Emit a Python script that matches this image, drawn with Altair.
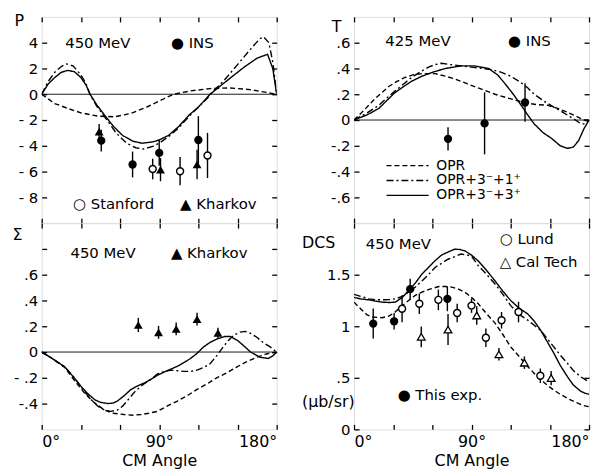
import altair as alt
import pandas as pd

FONT = "DejaVu Sans"
MODELS = ["OPR", "OPR+3⁻+1⁺", "OPR+3⁻+3⁺"]
DASHES = [[5, 3], [7, 3, 2, 3], [1, 0]]
X_TICKS = [0, 30, 60, 90, 120, 150, 180]

# ---------------- P, 450 MeV ----------------
p_opr_ang = [0, 10, 20, 30, 43, 56, 68, 81, 94, 101, 114, 129, 144, 159.5, 170, 180]
p_opr_val = [0, -0.72, -1.1, -1.44, -1.7, -1.75, -1.5, -0.97, -0.33, 0, 0.26, 0.44, 0.49, 0.36, 0.18, 0]
p_31_ang = [0, 5, 10, 15, 19, 24, 30, 34, 37, 42, 50, 57, 65, 72, 78, 85, 90, 97, 105, 113, 120, 127, 130, 140, 150, 160, 167, 170, 174, 177, 180]
p_31_val = [0, 1.0, 1.7, 2.15, 2.35, 2.2, 1.5, 0.8, 0.0, -0.9, -2.0, -3.0, -3.8, -4.15, -4.25, -4.05, -3.8, -3.3, -2.6, -1.7, -1.0, -0.3, 0.1, 1.1, 2.3, 3.5, 4.3, 4.45, 4.0, 2.5, 0]
p_33_ang = [0, 5, 10, 15, 20, 25, 30, 34, 37, 42, 48, 55, 62, 70, 77, 85, 90, 97, 105, 113, 120, 129, 135, 145, 155, 165, 173, 177, 180]
p_33_val = [0, 0.8, 1.3, 1.7, 1.85, 1.75, 1.3, 0.7, 0.0, -0.8, -1.6, -2.5, -3.2, -3.65, -3.8, -3.7, -3.55, -3.2, -2.5, -1.6, -1.0, 0.0, 0.5, 1.3, 2.1, 2.8, 3.1, 2.0, 0]
p_ins_ang = [45.6, 69.6, 90, 120]
p_ins_val = [-3.6, -5.45, -4.55, -3.55]
p_ins_err = [0.85, 1.0, 1.0, 1.85]
p_stan_ang = [85, 106, 127]
p_stan_val = [-5.8, -5.97, -4.75]
p_stan_err = [0.8, 1.1, 1.75]
p_khar_ang = [44, 91, 119]
p_khar_val = [-2.9, -5.85, -5.45]
p_khar_err = [0.6, 0.9, 1.15]
p_txt = ["450 MeV", "● INS", "○ Stanford", "▲ Kharkov"]
p_txt_ang = [18, 99, 24, 106]
p_txt_val = [4.0, 4.0, -8.55, -8.55]
p_ticks = [-8, -6, -4, -2, 0, 2, 4]
p_labels = ["- 8", "- 6", "- 4", "- 2", "0", "2", "4"]

# ---------------- T, 425 MeV ----------------
t_opr_ang = [0, 8, 16.5, 26.6, 33, 39, 45, 52, 62, 70, 77, 87, 97.6, 108, 118, 125, 133, 140, 148, 156, 163.5, 170, 176, 180]
t_opr_val = [0, 0.08, 0.17, 0.26, 0.3, 0.33, 0.35, 0.36, 0.36, 0.34, 0.32, 0.28, 0.24, 0.2, 0.17, 0.15, 0.13, 0.12, 0.115, 0.09, 0.06, 0.03, 0.0, 0]
t_31_ang = [0, 10, 19, 25, 32, 38, 44, 51, 57, 62, 67, 74, 82, 90, 98, 106, 113, 120, 128, 133, 138, 145, 153, 160, 168, 174, 177, 180]
t_31_val = [0, 0.055, 0.115, 0.17, 0.23, 0.28, 0.33, 0.375, 0.41, 0.43, 0.44, 0.43, 0.42, 0.41, 0.40, 0.39, 0.37, 0.34, 0.29, 0.25, 0.20, 0.15, 0.10, 0.06, 0.01, -0.03, -0.03, 0]
t_33_ang = [0, 10, 19, 25, 31, 38, 44, 52, 60, 70, 82, 92, 103, 110, 115, 122, 128, 133, 138, 145, 151, 158, 163.5, 168, 172, 176, 180]
t_33_val = [0, 0.04, 0.09, 0.15, 0.21, 0.26, 0.3, 0.34, 0.37, 0.40, 0.42, 0.42, 0.40, 0.35, 0.29, 0.2, 0.115, 0.04, -0.03, -0.1, -0.14, -0.2, -0.22, -0.21, -0.16, -0.07, 0]
t_ins_ang = [72, 100, 131]
t_ins_val = [-0.146, -0.026, 0.136]
t_ins_err = [0.09, 0.24, 0.15]
t_txt = ["425 MeV", "● INS"]
t_txt_ang = [24, 118]
t_txt_val = [0.615, 0.615]
t_ticks = [-0.6, -0.4, -0.2, 0, 0.2, 0.4, 0.6]
t_labels = ["-.6", "-.4", "-.2", "0", ".2", ".4", ".6"]

# ---------------- Sigma, 450 MeV ----------------
s_opr_ang = [0, 8, 17.7, 25, 33, 40, 48, 55, 63, 70, 76, 82, 88.7, 96, 104, 112, 119, 127, 134, 142, 149.6, 157, 165, 172, 180]
s_opr_val = [0, -0.05, -0.12, -0.22, -0.32, -0.39, -0.45, -0.475, -0.485, -0.49, -0.485, -0.475, -0.46, -0.42, -0.38, -0.335, -0.29, -0.245, -0.2, -0.16, -0.115, -0.075, -0.04, -0.015, 0]
s_31_ang = [0, 8, 17.7, 25, 33, 38, 43, 48, 53, 58, 62, 67, 72, 78, 84, 88.7, 94, 99, 104, 109, 114, 119, 124, 129, 134, 139, 143, 147, 152, 156, 160, 164.8, 170, 175, 180]
s_31_val = [0, -0.05, -0.115, -0.2, -0.31, -0.37, -0.42, -0.45, -0.46, -0.45, -0.42, -0.36, -0.3, -0.25, -0.21, -0.17, -0.15, -0.14, -0.145, -0.15, -0.15, -0.14, -0.12, -0.09, -0.03, 0.04, 0.09, 0.13, 0.155, 0.16, 0.145, 0.115, 0.07, 0.04, 0]
s_33_ang = [0, 8, 17.7, 24, 30.4, 35, 40.6, 45, 50.7, 55, 58, 63, 68.4, 74, 78.6, 84, 88.7, 95, 104, 110, 114, 119, 124, 129, 134, 140, 144.5, 150, 154.6, 160, 167, 173.6, 177, 180]
s_33_val = [0, -0.05, -0.115, -0.19, -0.27, -0.32, -0.37, -0.39, -0.4, -0.395, -0.38, -0.34, -0.29, -0.26, -0.24, -0.21, -0.18, -0.15, -0.11, -0.075, -0.05, -0.01, 0.04, 0.075, 0.1, 0.12, 0.12, 0.09, 0.05, 0.0, -0.04, -0.05, -0.03, 0]
s_khar_ang = [74, 89.5, 103, 119, 135]
s_khar_val = [0.21, 0.153, 0.18, 0.255, 0.148]
s_khar_err = [0.055, 0.05, 0.05, 0.05, 0.04]
s_txt = ["450 MeV", "▲ Kharkov"]
s_txt_ang = [22, 99]
s_txt_val = [0.77, 0.77]
s_ticks = [-0.4, -0.2, 0, 0.2, 0.4, 0.6, 0.8]
s_labels = ["-.4", "- .2", "0", ".2", ".4", ".6", ""]

# ---------------- DCS, 450 MeV ----------------
d_opr_ang = [0, 5, 10, 14, 21.5, 27, 31.7, 37, 41.8, 47, 52, 58, 65, 70, 75, 80, 85, 90, 95, 101, 108, 114, 120, 127, 133, 139, 146, 152, 158, 165, 171, 176, 180]
d_opr_val = [1.234, 1.17, 1.11, 1.09, 1.083, 1.1, 1.14, 1.2, 1.25, 1.3, 1.33, 1.36, 1.385, 1.385, 1.38, 1.36, 1.33, 1.28, 1.22, 1.13, 1.03, 0.92, 0.8, 0.7, 0.61, 0.53, 0.45, 0.39, 0.34, 0.29, 0.256, 0.23, 0.22]
d_31_ang = [0, 5, 11.4, 16, 21.5, 27, 31.7, 37, 41.8, 47, 52, 57, 62, 67, 72, 78, 82, 87, 90, 95, 101, 108, 114, 120, 127, 133, 138, 143, 148, 153, 158, 163.5, 168, 173.6, 180]
d_31_val = [1.31, 1.29, 1.266, 1.258, 1.256, 1.26, 1.266, 1.29, 1.33, 1.38, 1.44, 1.5, 1.57, 1.61, 1.65, 1.68, 1.7, 1.69, 1.68, 1.59, 1.51, 1.41, 1.31, 1.2, 1.11, 1.06, 1.01, 0.96, 0.88, 0.8, 0.72, 0.64, 0.57, 0.51, 0.46]
d_33_ang = [0, 5, 11.4, 16, 21.5, 27, 31.7, 37, 41.8, 47, 52, 57, 62, 67, 72, 77, 81, 85, 90, 95, 101, 108, 114, 120, 126, 133, 138, 143, 148, 153, 158, 163.5, 168, 173.6, 177, 180]
d_33_val = [1.28, 1.265, 1.256, 1.245, 1.234, 1.23, 1.234, 1.28, 1.346, 1.42, 1.506, 1.57, 1.635, 1.69, 1.72, 1.747, 1.745, 1.73, 1.69, 1.635, 1.55, 1.44, 1.34, 1.25, 1.18, 1.12, 1.05, 0.96, 0.85, 0.74, 0.62, 0.51, 0.43, 0.37, 0.35, 0.34]
d_this_ang = [14.7, 30.7, 43, 71.5]
d_this_val = [1.026, 1.048, 1.36, 1.266]
d_this_err = [0.145, 0.08, 0.1, 0.12]
d_lund_ang = [36.8, 50, 64.6, 79, 90, 101, 113, 126, 142.7]
d_lund_val = [1.17, 1.218, 1.256, 1.128, 1.2, 0.888, 1.058, 1.138, 0.52]
d_lund_err = [0.13, 0.1, 0.1, 0.09, 0.07, 0.09, 0.08, 0.1, 0.07]
d_cal_ang = [51.5, 72, 94, 111, 130.5, 151]
d_cal_val = [0.897, 0.968, 1.105, 0.728, 0.647, 0.497]
d_cal_err = [0.1, 0.15, 0.09, 0.06, 0.06, 0.07]
d_txt = ["450 MeV", "○ Lund", "△ Cal Tech", "● This exp."]
d_txt_ang = [9, 111.6, 111.6, 33.4]
d_txt_val = [1.8, 1.85, 1.625, 0.33]
d_ticks = [0.5, 1.0, 1.5, 0]
d_labels = [".5", "1", "1.5", "0"]


def curve_df(triples):
    rows = []
    for m, a, v in triples:
        rows += [{"angle": x, "value": y, "model": m} for x, y in zip(a, v)]
    return pd.DataFrame(rows)


def pts_df(ang, val, err):
    return pd.DataFrame({"angle": ang, "value": val,
                         "lo": [v - e for v, e in zip(val, err)],
                         "hi": [v + e for v, e in zip(val, err)]})


def label_expr(vals, labels):
    s = ""
    for v, l in zip(vals, labels):
        s += f"abs(datum.value - ({v})) < 1e-6 ? '{l}' : "
    return s + "''"


STYLES = {
    "fcirc": dict(shape="circle", filled=True, color="black", size=70, opacity=1),
    "ocirc": dict(shape="circle", filled=True, fill="white", stroke="black", strokeWidth=1.4, size=50, opacity=1),
    "ftri": dict(shape="triangle-up", filled=True, color="black", size=80, opacity=1),
    "otri": dict(shape="triangle-up", filled=True, fill="white", stroke="black", strokeWidth=1.3, size=60, opacity=1),
}

LEGEND = alt.Legend(orient="none", legendX=361, legendY=142, title=None, symbolType="M-3,0H3",
                    symbolSize=200, symbolStrokeWidth=1.3, symbolStrokeColor="black",
                    symbolFillColor="transparent",
                    labelFont=FONT, labelFontSize=14, labelColor="black", rowPadding=0,
                    labelOffset=21)


def panel(curves, sources, texts, ydom, yticks, ylabels, ytitle, tx, ty, bottom, zero=True, lh=None):
    xs = alt.Scale(domain=[0, 180], nice=False, zero=False)
    ys = alt.Scale(domain=ydom, nice=False, zero=False)
    common = dict(tickSize=5, offset=-5, domain=False, grid=False, tickColor="black", tickWidth=1.3)
    if bottom:
        xb = alt.Axis(values=X_TICKS, labelExpr="datum.value % 90 == 0 ? datum.value + '°' : ''",
                      labelFlush=10, labelOverlap=False, labelFont=FONT, labelFontSize=16,
                      labelColor="black", labelPadding=4, title="CM  Angle", titleFont=FONT,
                      titleFontSize=16, titleFontWeight="normal", titleColor="black", titlePadding=3, **common)
    else:
        xb = alt.Axis(values=X_TICKS, labels=False, title=None, **common)
    ykw = dict(values=yticks, labelExpr=label_expr(yticks, ylabels), labelFlush=False, labelOverlap=False,
               labelFont=FONT, labelFontSize=15, labelColor="black", labelPadding=4,
               title=ytitle, titleAngle=0, titleX=tx, titleY=ty, titleAlign="left",
               titleBaseline="alphabetic", titleFont=FONT, titleFontSize=16, titleFontWeight="normal",
               titleColor="black", **common)
    if lh is not None:
        ykw["titleLineHeight"] = lh
    yl = alt.Axis(**ykw)
    xt = alt.Axis(orient="top", values=X_TICKS, labels=False, title=None, **common)
    yr = alt.Axis(orient="right", values=yticks, labels=False, title=None, **common)

    layers = []
    layers.append(alt.Chart(curves).mark_line(color="black", strokeWidth=1.4, clip=True).encode(
        x=alt.X("angle:Q", scale=xs, axis=xb),
        y=alt.Y("value:Q", scale=ys, axis=yl),
        strokeDash=alt.StrokeDash("model:N", scale=alt.Scale(domain=MODELS, range=DASHES), legend=LEGEND),
        order="angle:Q"))
    if zero:
        layers.append(alt.Chart(pd.DataFrame({"value": [0]})).mark_rule(color="black", strokeWidth=0.9).encode(
            y=alt.Y("value:Q", scale=ys, axis=None)))
    allpts = pd.concat([d for d, _ in sources], ignore_index=True)
    layers.append(alt.Chart(allpts).mark_rule(color="black", strokeWidth=1.4).encode(
        x=alt.X("angle:Q", scale=xs, axis=xt),
        y=alt.Y("lo:Q", scale=ys, axis=yr),
        y2="hi:Q"))
    for d, st in sources:
        layers.append(alt.Chart(d).mark_point(**STYLES[st]).encode(
            x=alt.X("angle:Q", scale=xs, axis=None),
            y=alt.Y("value:Q", scale=ys, axis=None)))
    layers.append(alt.Chart(texts).mark_text(align="left", baseline="middle", font=FONT, fontSize=15,
                                             color="black").encode(
        x=alt.X("angle:Q", scale=xs, axis=None),
        y=alt.Y("value:Q", scale=ys, axis=None),
        text="label:N"))
    return alt.layer(*layers).resolve_axis(x="independent", y="independent").properties(width=237, height=208)


tl = panel(curve_df([(MODELS[0], p_opr_ang, p_opr_val), (MODELS[1], p_31_ang, p_31_val), (MODELS[2], p_33_ang, p_33_val)]),
           [(pts_df(p_ins_ang, p_ins_val, p_ins_err), "fcirc"),
            (pts_df(p_stan_ang, p_stan_val, p_stan_err), "ocirc"),
            (pts_df(p_khar_ang, p_khar_val, p_khar_err), "ftri")],
           pd.DataFrame({"angle": p_txt_ang, "value": p_txt_val, "label": p_txt}),
           [-10, 6], p_ticks, p_labels, "P", -33, 9, bottom=False)

tr = panel(curve_df([(MODELS[0], t_opr_ang, t_opr_val), (MODELS[1], t_31_ang, t_31_val), (MODELS[2], t_33_ang, t_33_val)]),
           [(pts_df(t_ins_ang, t_ins_val, t_ins_err), "fcirc")],
           pd.DataFrame({"angle": t_txt_ang, "value": t_txt_val, "label": t_txt}),
           [-0.8, 0.8], t_ticks, t_labels, "T", -28, 15, bottom=False)

bl = panel(curve_df([(MODELS[0], s_opr_ang, s_opr_val), (MODELS[1], s_31_ang, s_31_val), (MODELS[2], s_33_ang, s_33_val)]),
           [(pts_df(s_khar_ang, s_khar_val, s_khar_err), "ftri")],
           pd.DataFrame({"angle": s_txt_ang, "value": s_txt_val, "label": s_txt}),
           [-0.6, 1.0], s_ticks, s_labels, "Σ", -35, 16, bottom=True)

br = panel(curve_df([(MODELS[0], d_opr_ang, d_opr_val), (MODELS[1], d_31_ang, d_31_val), (MODELS[2], d_33_ang, d_33_val)]),
           [(pts_df(d_this_ang, d_this_val, d_this_err), "fcirc"),
            (pts_df(d_lund_ang, d_lund_val, d_lund_err), "ocirc"),
            (pts_df(d_cal_ang, d_cal_val, d_cal_err), "otri")],
           pd.DataFrame({"angle": d_txt_ang, "value": d_txt_val, "label": d_txt}),
           [0, 2.0], d_ticks, d_labels, ["DCS", "(μb/sr)"], -58, 25, bottom=True, zero=False, lh=160)

chart = alt.concat(tl, tr, bl, br, columns=2, spacing={"row": 0, "column": 78}, bounds="flush").properties(
    padding={"left": 3, "top": 2, "right": 0, "bottom": 0}
).configure_view(stroke="black", strokeWidth=1.8).configure(background="white")

chart.save("out.html", embed_options={"renderer": "svg", "actions": False})
